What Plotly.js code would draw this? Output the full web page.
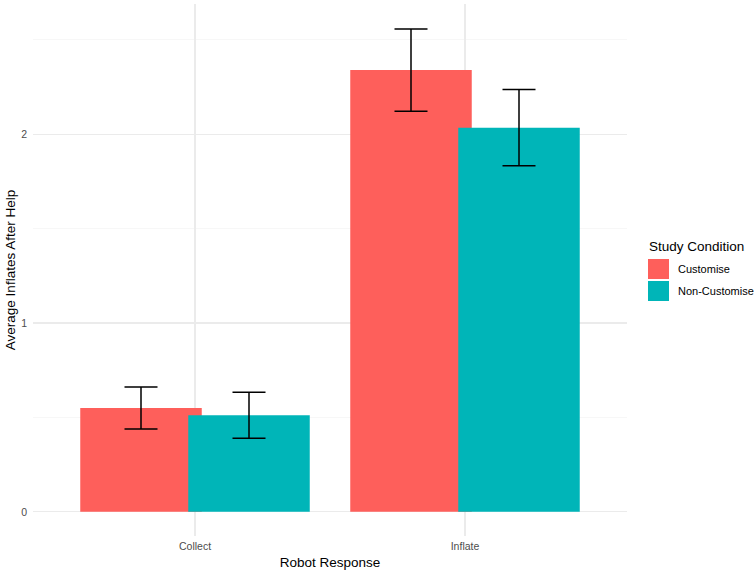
<!DOCTYPE html>
<html>
<head>
<meta charset="utf-8">
<script src="https://cdn.plot.ly/plotly-3.0.1.min.js"></script>
<style>
  html, body { margin: 0; padding: 0; background: #fff; }
  #chart { width: 754px; height: 571px; }
</style>
</head>
<body>
<div id="chart"></div>
<script>
var responses = ['Collect', 'Inflate'];
var conditions = ['Customise', 'Non-Customise'];
var customiseMean = [0.55, 2.34];
var customiseErr = [0.111, 0.218];
var nonCustomiseMean = [0.512, 2.035];
var nonCustomiseErr = [0.122, 0.202];
var colours = ['#FE5F5B', '#00B5B8'];
var legendTitle = 'Study Condition';

var fnt = 'Liberation Sans, Arial, Helvetica, sans-serif';
var W = 754, H = 571;
var M = { l: 33, r: 127, t: 4, b: 35 };

// pixel -> paper coords (for the hand-built legend)
function px(x) { return (x - M.l) / (W - M.l - M.r); }
function py(y) { return (H - M.b - y) / (H - M.t - M.b); }

function barTrace(name, y, err, colour, offset) {
  return {
    type: 'bar',
    name: name,
    x: responses,
    y: y,
    width: 0.45,
    offset: offset,
    marker: { color: colour, line: { width: 0 } },
    error_y: {
      type: 'data',
      array: err,
      visible: true,
      color: '#000000',
      thickness: 1.5,
      width: 16.5
    },
    showlegend: false,
    hoverinfo: 'x+y+name'
  };
}

var data = [
  barTrace(conditions[0], customiseMean, customiseErr, colours[0], -0.425),
  barTrace(conditions[1], nonCustomiseMean, nonCustomiseErr, colours[1], -0.025)
];

// legend: big square keys like ggplot
var shapes = [];
var annotations = [{
  xref: 'paper', yref: 'paper', x: px(647), y: py(246),
  xanchor: 'left', yanchor: 'middle', showarrow: false,
  text: legendTitle, font: { size: 13.5, color: '#000000' }
}];
for (var i = 0; i < conditions.length; i++) {
  var keyTop = 259 + i * 22;
  shapes.push({
    type: 'rect', xref: 'paper', yref: 'paper',
    x0: px(648), x1: px(669), y0: py(keyTop), y1: py(keyTop + 20),
    fillcolor: colours[i], line: { width: 0 }
  });
  annotations.push({
    xref: 'paper', yref: 'paper', x: px(676), y: py(keyTop + 10),
    xanchor: 'left', yanchor: 'middle', showarrow: false,
    text: conditions[i], font: { size: 11, color: '#000000' }
  });
}

var layout = {
  width: W,
  height: H,
  margin: { l: M.l, r: M.r, t: M.t, b: M.b, pad: 0, autoexpand: false },
  paper_bgcolor: '#ffffff',
  plot_bgcolor: '#ffffff',
  barmode: 'overlay',
  showlegend: false,
  font: { family: fnt, color: '#4d4d4d' },
  xaxis: {
    type: 'category',
    range: [-0.6, 1.6],
    showgrid: true,
    gridcolor: '#ebebeb',
    gridwidth: 1.1,
    zeroline: false,
    showline: false,
    ticks: '',
    ticklabelstandoff: 2,
    tickfont: { size: 10.5, color: '#4d4d4d' },
    title: { text: 'Robot Response', font: { size: 13.5, color: '#000000' }, standoff: 7 },
    automargin: false
  },
  yaxis: {
    range: [-0.128, 2.69],
    tickvals: [0, 1, 2],
    ticktext: ['0', '1', '2'],
    showgrid: true,
    gridcolor: '#ebebeb',
    gridwidth: 1.1,
    minor: { dtick: 0.5, tick0: 0, showgrid: true, gridcolor: '#f2f2f2', gridwidth: 0.6 },
    zeroline: false,
    showline: false,
    ticks: '',
    ticklabelstandoff: 5,
    tickfont: { size: 10.5, color: '#4d4d4d' },
    title: { text: 'Average Inflates After Help', font: { size: 13.5, color: '#000000' }, standoff: 2 },
    automargin: false
  },
  shapes: shapes,
  annotations: annotations
};

Plotly.newPlot('chart', data, layout, { displayModeBar: false, staticPlot: true });
</script>
</body>
</html>
